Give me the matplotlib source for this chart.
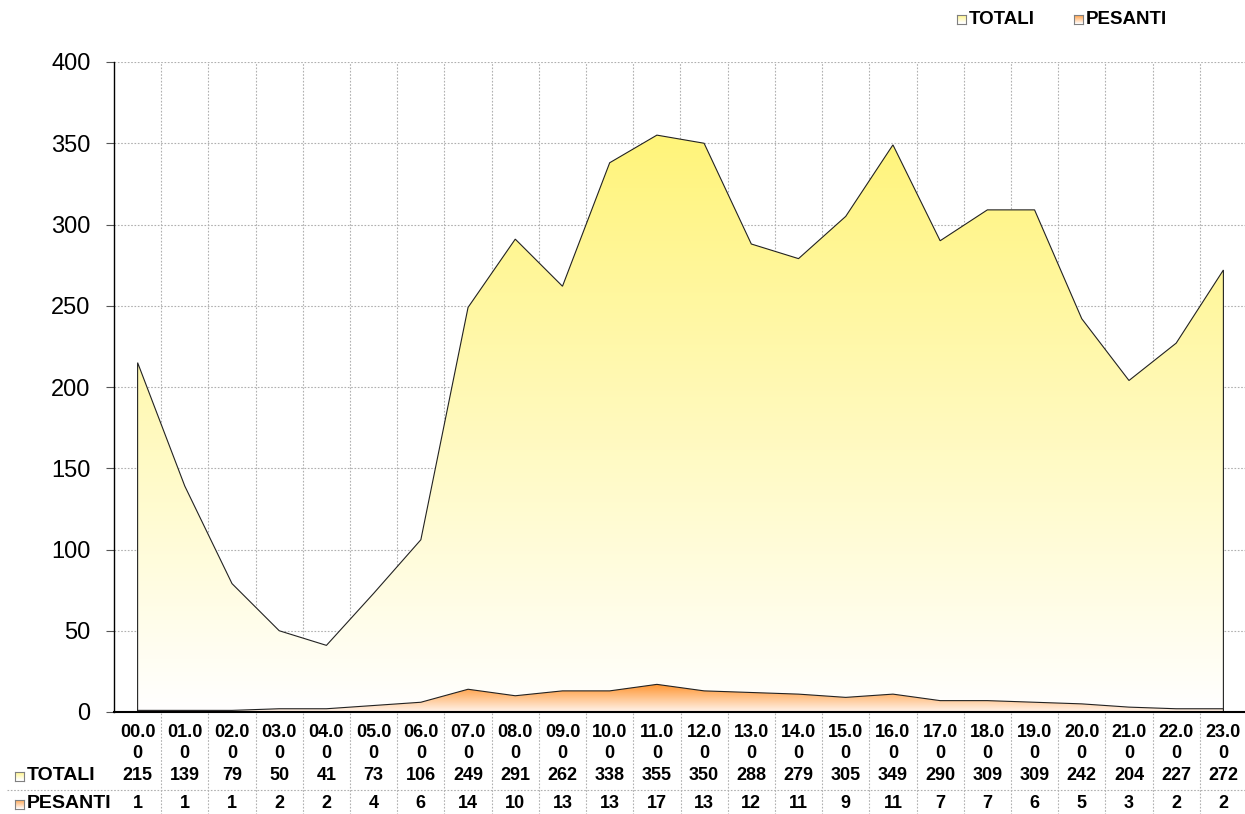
import numpy as np
import matplotlib
matplotlib.use("Agg")
import matplotlib.pyplot as plt
from matplotlib.colors import LinearSegmentedColormap

hours = ["00.00", "01.00", "02.00", "03.00", "04.00", "05.00", "06.00", "07.00",
         "08.00", "09.00", "10.00", "11.00", "12.00", "13.00", "14.00", "15.00",
         "16.00", "17.00", "18.00", "19.00", "20.00", "21.00", "22.00", "23.00"]
totali = [215, 139, 79, 50, 41, 73, 106, 249, 291, 262, 338, 355, 350, 288,
          279, 305, 349, 290, 309, 309, 242, 204, 227, 272]
pesanti = [1, 1, 1, 2, 2, 4, 6, 14, 10, 13, 13, 17, 13, 12, 11, 9, 11, 7, 7,
           6, 5, 3, 2, 2]
series_names = ["TOTALI", "PESANTI"]
yticks = [0, 50, 100, 150, 200, 250, 300, 350, 400]

plt.rcParams['font.family'] = ['Liberation Sans', 'DejaVu Sans']

W, H = 1245, 814
fig = plt.figure(figsize=(W / 100, H / 100), dpi=100)
left_px, right_px, top_px, bot_px = 114, 1247, 62, 712
ax = fig.add_axes([left_px / W, 1 - bot_px / H, (right_px - left_px) / W, (bot_px - top_px) / H])

x = np.arange(len(hours))
ax.set_xlim(-0.5, len(hours) - 0.5)
ax.set_ylim(0, 400)

GRID = "#b0b0b0"
DOT = (0, (1.5, 1.5))

for gx in np.arange(0.5, len(hours) - 0.5, 1.0):
    ax.axvline(gx, color=GRID, lw=0.8, ls=DOT, zorder=0)
for gy in yticks[1:]:
    ax.axhline(gy, color=GRID, lw=0.8, ls=DOT, zorder=0)


def gradient_area(vals, top_color, bot_color, z):
    vals = np.asarray(vals, dtype=float)
    poly = ax.fill_between(x, 0, vals, facecolor="none", edgecolor="none", zorder=z)
    cmap = LinearSegmentedColormap.from_list("g", [bot_color, top_color])
    grad = np.linspace(0, 1, 256).reshape(-1, 1)
    im = ax.imshow(grad, cmap=cmap, origin="lower", aspect="auto",
                   extent=[x[0], x[-1], 0, vals.max()], zorder=z, interpolation="bilinear")
    im.set_clip_path(poly.get_paths()[0], transform=ax.transData)
    ox = np.concatenate([[x[0]], x, [x[-1]]])
    oy = np.concatenate([[0], vals, [0]])
    ax.plot(ox, oy, color="#222222", lw=0.8, zorder=z + 0.1, solid_joinstyle="miter")


YEL_TOP, YEL_BOT = "#FFF47A", "#FFFFFF"
ORA_TOP, ORA_BOT = "#FF9530", "#FFF4EC"
gradient_area(totali, YEL_TOP, YEL_BOT, 2)
gradient_area(pesanti, ORA_TOP, ORA_BOT, 3)
ax.set_xlim(-0.5, len(hours) - 0.5)
ax.set_ylim(0, 400)

for s in ["top", "right"]:
    ax.spines[s].set_visible(False)
ax.spines["left"].set_color("black")
ax.spines["left"].set_linewidth(1.0)
ax.spines["bottom"].set_color("black")
ax.spines["bottom"].set_linewidth(1.5)
ax.spines["bottom"].set_zorder(5)
ax.set_yticks(yticks)
ax.set_yticklabels([str(v) for v in yticks], fontsize=17)
ax.tick_params(axis="y", direction="out", length=6, color="#555555", pad=11)
ax.set_xticks([])


def ypx(py):
    return (H - py) / H


for i, h in enumerate(hours):
    cx = ax.transData.transform((i, 0))[0] / W
    lab = h[:4] + "\n" + h[4:]
    fig.text(cx, ypx(743), lab, ha="center", va="center",
             fontsize=13, fontweight="bold", linespacing=1.3)
    fig.text(cx, ypx(776), str(totali[i]), ha="center", va="center",
             fontsize=13, fontweight="bold")
    fig.text(cx, ypx(804), str(pesanti[i]), ha="center", va="center",
             fontsize=13, fontweight="bold")

for gx in np.arange(0.5, len(hours) - 0.5, 1.0):
    px = ax.transData.transform((gx, 0))[0] / W
    fig.add_artist(plt.Line2D([px, px], [ypx(713), ypx(814)], color=GRID, lw=0.8, ls=DOT))
fig.add_artist(plt.Line2D([7 / W, 1.0], [ypx(790), ypx(790)], color=GRID, lw=0.8, ls=DOT))


def key(px, py, c1, c2):
    sz = 9
    cmap = LinearSegmentedColormap.from_list("k", [c2, c1])
    kax = fig.add_axes([px / W, (H - py - sz / 2) / H, sz / W, sz / H])
    kax.imshow(np.linspace(0, 1, 32).reshape(-1, 1), cmap=cmap, origin="lower", aspect="auto")
    kax.set_xticks([]); kax.set_yticks([])
    for s in kax.spines.values():
        s.set_color("#808080"); s.set_linewidth(0.8)


key(15, 776, YEL_TOP, YEL_BOT)
fig.text(27 / W, ypx(776), series_names[0], ha="left", va="center", fontsize=14, fontweight="bold")
key(15, 804, ORA_TOP, ORA_BOT)
fig.text(27 / W, ypx(804), series_names[1], ha="left", va="center", fontsize=14, fontweight="bold")

key(957, 19, YEL_TOP, YEL_BOT)
fig.text(969 / W, ypx(19), series_names[0], ha="left", va="center", fontsize=13.5, fontweight="bold")
key(1074, 19, ORA_TOP, ORA_BOT)
fig.text(1086 / W, ypx(19), series_names[1], ha="left", va="center", fontsize=13.5, fontweight="bold")

fig.savefig("out.png", dpi=100, facecolor="white")
